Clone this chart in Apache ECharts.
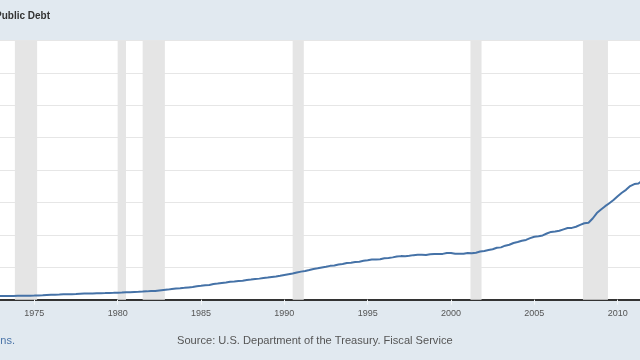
<!DOCTYPE html>
<html>
<head>
<meta charset="utf-8">
<script src="https://cdn.jsdelivr.net/npm/echarts@6/dist/echarts.min.js"></script>
<style>
html,body{margin:0;padding:0;background:#e1e9f0;}
#chart{width:640px;height:360px;}
</style>
</head>
<body>
<div id="chart"></div>
<script>
// Federal Debt: Total Public Debt, quarterly, trillions of dollars, starting 1972 Q1
var startYear = 1972;
var debt = [
  0.427, 0.427, 0.436, 0.448,
  0.457, 0.458, 0.462, 0.470,
  0.474, 0.475, 0.481, 0.493,
  0.509, 0.533, 0.554, 0.577,
  0.600, 0.621, 0.634, 0.662,
  0.681, 0.686, 0.706, 0.735,
  0.753, 0.766, 0.780, 0.795,
  0.805, 0.812, 0.827, 0.846,
  0.869, 0.882, 0.908, 0.930,
  0.964, 0.971, 0.998, 1.028,
  1.062, 1.085, 1.142, 1.197,
  1.245, 1.319, 1.377, 1.411,
  1.463, 1.518, 1.573, 1.663,
  1.711, 1.775, 1.823, 1.945,
  1.986, 2.059, 2.125, 2.214,
  2.250, 2.314, 2.350, 2.431,
  2.487, 2.547, 2.602, 2.684,
  2.740, 2.800, 2.857, 2.953,
  3.053, 3.143, 3.233, 3.364,
  3.465, 3.538, 3.665, 3.801,
  3.881, 3.984, 4.065, 4.177,
  4.230, 4.352, 4.411, 4.536,
  4.576, 4.646, 4.693, 4.801,
  4.864, 4.951, 4.974, 4.989,
  5.118, 5.162, 5.225, 5.323,
  5.380, 5.377, 5.413, 5.502,
  5.542, 5.548, 5.526, 5.614,
  5.651, 5.639, 5.656, 5.776,
  5.773, 5.686, 5.674, 5.662,
  5.774, 5.727, 5.807, 5.943,
  6.006, 6.126, 6.228, 6.406,
  6.460, 6.670, 6.783, 6.998,
  7.131, 7.274, 7.379, 7.596,
  7.777, 7.837, 7.933, 8.170,
  8.371, 8.420, 8.507, 8.680,
  8.849, 8.867, 9.008, 9.229,
  9.437, 9.492, 10.025, 10.700,
  11.127, 11.545, 11.910, 12.311,
  12.773, 13.202, 13.562, 14.025,
  14.270, 14.343, 14.790, 15.223
];
// Recessions (decimal years)
var recessionStart = [1973.833, 1980.000, 1981.500, 1990.500, 2001.167, 2007.917];
var recessionEnd   = [1975.167, 1980.500, 1982.833, 1991.167, 2001.833, 2009.417];

var titleText = 'Public Debt';
var noteText = 'ns.';
var sourceText = 'Source: U.S. Department of the Treasury. Fiscal Service';

var lineData = debt.map(function (v, i) { return [startYear + i / 4, v]; });
var areas = recessionStart.map(function (s, i) {
  return [{ xAxis: s }, { xAxis: recessionEnd[i] }];
});

var chart = echarts.init(document.getElementById('chart'), null, { renderer: 'canvas' });
chart.setOption({
  backgroundColor: '#e1e9f0',
  animation: false,
  textStyle: { fontFamily: 'Liberation Sans, Arial, sans-serif' },
  grid: {
    show: true,
    backgroundColor: '#ffffff',
    borderWidth: 0,
    left: -49,
    right: -61,
    top: 40.5,
    bottom: 60.3,
    containLabel: false,
    outerBoundsMode: 'none'
  },
  xAxis: {
    type: 'value',
    min: 1970,
    max: 2015,
    interval: 5,
    axisLine: { show: true, lineStyle: { color: '#333333', width: 2 } },
    axisTick: { show: true, length: 5, lineStyle: { color: '#f4f7fa', width: 1 } },
    axisLabel: {
      color: '#555555', fontSize: 9, margin: 9,
      fontFamily: 'Liberation Sans, Arial, sans-serif',
      formatter: function (v) { return String(Math.round(v)); }
    },
    splitLine: { show: false }
  },
  yAxis: {
    type: 'value',
    min: 0,
    max: 32,
    interval: 4,
    axisLine: { show: false },
    axisTick: { show: false },
    axisLabel: { show: false },
    splitLine: { show: true, lineStyle: { color: '#e6e6e6', width: 1 } }
  },
  series: [
    {
      type: 'line',
      data: [],
      z: 1,
      silent: true,
      markArea: {
        silent: true,
        itemStyle: { color: '#e5e5e5', opacity: 1 },
        data: areas
      }
    },
    {
      type: 'line',
      data: lineData,
      z: 3,
      symbol: 'none',
      showSymbol: false,
      lineStyle: { color: '#4572a7', width: 2 },
      itemStyle: { color: '#4572a7' }
    }
  ],
  graphic: [
    {
      type: 'text', x: 50, y: 16, z: 10,
      style: { text: titleText, textAlign: 'right', textVerticalAlign: 'middle',
               fill: '#333333', font: 'bold 10px Liberation Sans, Arial, sans-serif' }
    },
    {
      type: 'text', x: 15, y: 341, z: 10,
      style: { text: noteText, textAlign: 'right', textVerticalAlign: 'middle',
               fill: '#4a74a8', font: '11px Liberation Sans, Arial, sans-serif' }
    },
    {
      type: 'text', x: 177, y: 341, z: 10,
      style: { text: sourceText, textAlign: 'left', textVerticalAlign: 'middle',
               fill: '#555555', font: '11.1px Liberation Sans, Arial, sans-serif' }
    }
  ]
});
</script>
</body>
</html>
